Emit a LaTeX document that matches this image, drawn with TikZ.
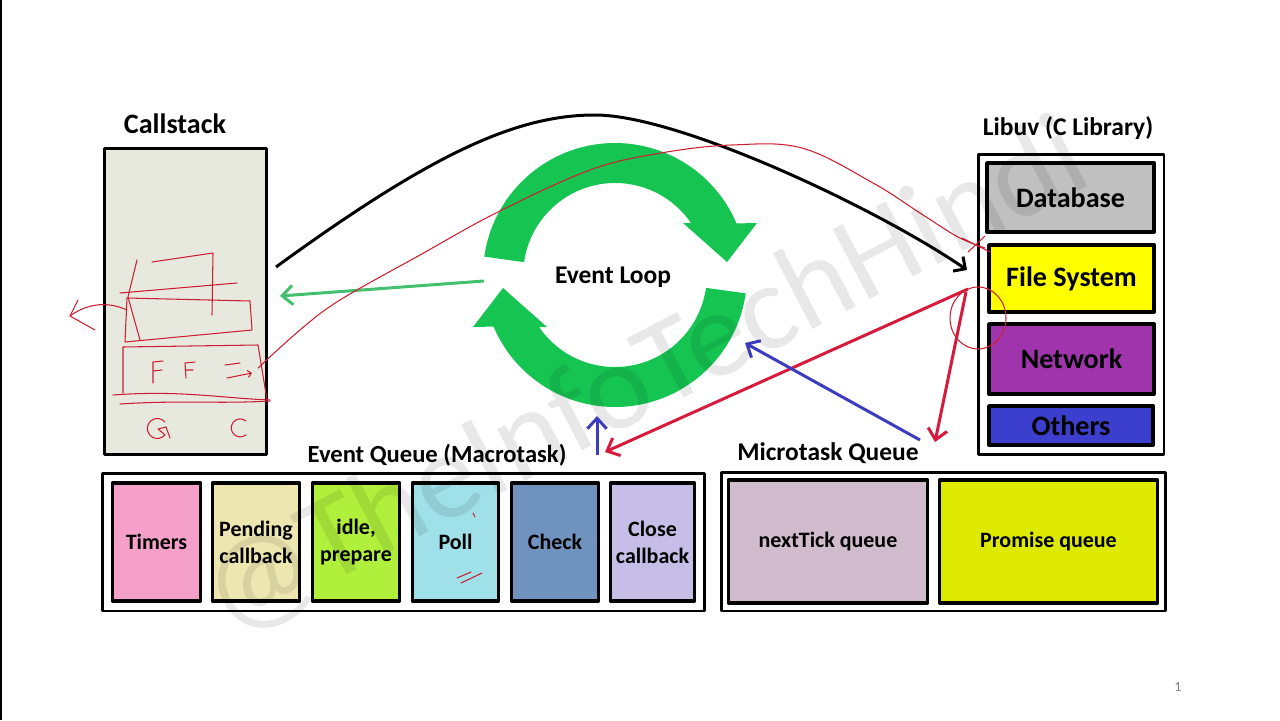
\documentclass[tikz,border=0pt]{standalone}
\usepackage{fontspec}
\setmainfont{Carlito}
\usetikzlibrary{arrows.meta}

\begin{document}
\begin{tikzpicture}[x=0.02cm,y=-0.02cm,line join=round]
  % Colors
  \definecolor{stackcolor}{RGB}{231,233,223}
  \definecolor{dbcolor}{RGB}{192,192,192}
  \definecolor{fscolor}{RGB}{255,255,0}
  \definecolor{netcolor}{RGB}{160,52,172}
  \definecolor{othercolor}{RGB}{60,62,205}
  \definecolor{timercolor}{RGB}{245,160,200}
  \definecolor{pendcolor}{RGB}{238,230,176}
  \definecolor{idlecolor}{RGB}{176,240,60}
  \definecolor{pollcolor}{RGB}{160,224,232}
  \definecolor{checkcolor}{RGB}{112,146,190}
  \definecolor{closecolor}{RGB}{198,190,230}
  \definecolor{tickcolor}{RGB}{208,188,204}
  \definecolor{promisecolor}{RGB}{221,234,0}
  \definecolor{loopcolor}{RGB}{22,196,82}
  \definecolor{redarrow}{RGB}{215,25,60}
  \definecolor{bluearrow}{RGB}{60,60,190}
  \definecolor{scribblecolor}{RGB}{205,30,50}

  % Styles
  \tikzstyle{frame box}=[draw,line width=1.7pt,inner sep=0pt]
  \tikzstyle{qcell}=[draw,line width=2.2pt,inner sep=0pt,align=center,
    font=\bfseries\fontsize{12.5}{15.3}\selectfont]
  \tikzstyle{libcell}=[qcell,font=\bfseries\fontsize{16}{19}\selectfont]
  \tikzstyle{heading}=[font=\bfseries\fontsize{14.5}{17}\selectfont]
  \tikzstyle{flow}=[line width=1.7pt,-{Straight Barb[length=6pt,width=11pt]}]
  \tikzstyle{scribble}=[scribblecolor,line width=0.6pt,line cap=round]

  \useasboundingbox[fill=white] (0,0) rectangle (1280,720);
  \draw[line width=1.1pt] (1,0) -- (1,720);

  % Callstack
  \node[heading,font=\bfseries\fontsize{16}{19}\selectfont] (stacktitle) at (175,124) {Callstack};
  \node[frame box,fill=stackcolor,minimum width=3.26cm,minimum height=6.14cm] (callstack) at (185.5,301.5) {};

  % Libuv
  \node[heading] (libuvtitle) at (1068,128) {Libuv (C Library)};
  \node[frame box,fill=white,minimum width=3.72cm,minimum height=6.02cm] (libuv) at (1071,304.5) {};
  \node[libcell,fill=dbcolor,minimum width=3.34cm,minimum height=1.38cm] (database) at (1070.5,197.5) {Database};
  \node[libcell,fill=fscolor,minimum width=3.3cm,minimum height=1.34cm] (filesys) at (1071.5,278.5) {File System};
  \node[libcell,fill=netcolor,minimum width=3.3cm,minimum height=1.4cm] (network) at (1071.5,359) {Network};
  \node[libcell,fill=othercolor,minimum width=3.28cm,minimum height=0.78cm] (others) at (1071,425.5) {Others};

  % Event queue (macrotask)
  \node[heading,font=\bfseries\fontsize{14}{17}\selectfont] (eventqtitle) at (437,455) {Event Queue (Macrotask)};
  \node[frame box,minimum width=12.06cm,minimum height=2.76cm] (eventq) at (403.5,542) {};
  \node[qcell,fill=timercolor,minimum width=1.76cm,minimum height=2.36cm] (timers) at (156.5,542) {Timers};
  \node[qcell,fill=pendcolor,minimum width=1.74cm,minimum height=2.36cm] (pending) at (256,542) {Pending\\callback};
  \node[qcell,fill=idlecolor,minimum width=1.74cm,minimum height=2.36cm] (idle) at (356,542) {idle,\\prepare};
  \node[qcell,fill=pollcolor,minimum width=1.72cm,minimum height=2.36cm] (poll) at (455.5,542) {Poll};
  \node[qcell,fill=checkcolor,minimum width=1.74cm,minimum height=2.36cm] (check) at (555,542) {Check};
  \node[qcell,fill=closecolor,minimum width=1.68cm,minimum height=2.36cm] (close) at (652.5,542) {Close\\callback};

  % Microtask queue
  \node[heading] (microqtitle) at (828,453) {Microtask Queue};
  \node[frame box,minimum width=8.9cm,minimum height=2.78cm] (microq) at (943.5,541.5) {};
  \node[qcell,fill=tickcolor,minimum width=3.98cm,minimum height=2.46cm] (nexttick) at (828,541.5) {nextTick queue};
  \node[qcell,fill=promisecolor,minimum width=4.36cm,minimum height=2.46cm] (promise) at (1048.5,541.5) {Promise queue};

  % Event loop
  \coordinate (loopc) at (615,275);
  \fill[loopcolor] (loopc) ++(172:2.64cm) arc[start angle=172,end angle=23,radius=2.64cm]
    -- (757,223) -- (727,262) -- (683,223) -- (691,223)
    arc[start angle=34.4,end angle=172,radius=1.84cm] -- cycle;
  \fill[loopcolor] (loopc) ++(-8:2.64cm) arc[start angle=-8,end angle=-157,radius=2.64cm]
    -- (473,327) -- (503,288) -- (547,327) -- (539,327)
    arc[start angle=-145.6,end angle=-8,radius=1.84cm] -- cycle;
  \node[heading] (looplabel) at (613,277) {Event Loop};

  % Connectors
  \coordinate (curvestart) at (276,267);
  \coordinate (curvetop) at (595,115);
  \coordinate (curveend) at (967,270);
  \draw[flow,-{Straight Barb[length=5pt,width=10pt]}] (curvestart) .. controls (430,155) and (515,115) .. (curvetop)
    .. controls (680,115) and (880,210) .. (curveend);

  \coordinate (loopout) at (484,281);
  \coordinate (stackin) at (280,296);
  \draw[flow,draw=loopcolor!90!black!80] (loopout) -- (stackin);

  \coordinate (fsout) at (968,289);
  \coordinate (fsout2) at (966,292);
  \coordinate (eventqin) at (605,452);
  \coordinate (microin) at (935,442);
  \draw[flow,redarrow] (fsout) -- (eventqin);
  \draw[flow,redarrow] (fsout2) -- (microin);

  \coordinate (microout) at (920,440);
  \coordinate (loopin) at (745,343);
  \coordinate (eventqout) at (597,455);
  \coordinate (loopin2) at (597,416);
  \draw[flow,bluearrow] (microout) -- (loopin);
  \draw[flow,bluearrow] (eventqout) -- (loopin2);

  % Hand notes
  \draw[scribble] (152,262) -- (213,253) -- (212,315);
  \draw[scribble] (137,260) -- (128,297) -- (140,340);
  \draw[scribble] (127,298) -- (250,301) -- (252,330) -- (125,342) -- cycle;
  \draw[scribble] (120,293) -- (237,283);
  \draw[scribble] (123,393) -- (123,347) -- (258,345) -- (267,400);
  \draw[scribble] (113,395) .. controls (180,390) and (220,398) .. (270,400);
  \draw[scribble] (120,404) .. controls (180,400) and (220,404) .. (270,401);
  \draw[scribble] (127,310) .. controls (105,300) and (85,305) .. (70,316);
  \draw[scribble] (78,300) -- (70,316) -- (95,330);
  \draw[scribble] (153,383) -- (153,362) -- (163,361) (153,371) -- (162,370);
  \draw[scribble] (186,378) -- (185,363) -- (195,362) (186,370) -- (193,370);
  \draw[scribble] (225,365) -- (240,363);
  \draw[scribble,-{Straight Barb[length=2pt,width=4pt]}] (227,378) -- (252,373);
  \draw[scribble] (246,421) arc[start angle=50,end angle=310,radius=0.18cm];
  \draw[scribble] (165,422) arc[start angle=40,end angle=320,radius=0.2cm] -- (158,429) -- (166,427) -- (170,438);
  \draw[scribble] plot[smooth,tension=0.6] coordinates {(258,368) (300,330) (340,300) (420,255)
    (496,213) (590,170) (661,153) (732,145) (802,148) (873,183) (920,213) (958,237) (985,248)};
  \draw[scribble] (978,318) ellipse[x radius=0.56cm,y radius=0.62cm];
  \draw[scribble] (962,238) -- (990,252) (968,252) -- (985,236);
  \draw[scribble] (457,578) -- (471,572) (461,583) -- (482,573) (473,513) -- (475,517);

  % Watermark and page number
  \node[rotate=27.7,text=black,text opacity=0.09,font=\fontsize{70}{80}\selectfont] (mark) at (645,378) {@TheInfoTechHindi};
  \node[text=gray,font=\fontsize{8}{9}\selectfont] (pagenum) at (1178,687) {1};
\end{tikzpicture}
\end{document}
